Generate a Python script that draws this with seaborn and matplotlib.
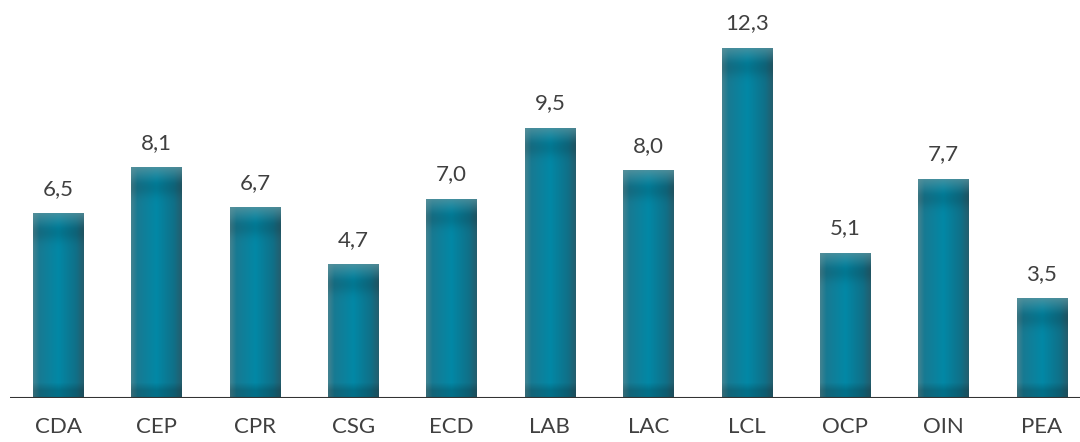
import numpy as np
import pandas as pd
import matplotlib
matplotlib.use('Agg')
import matplotlib.pyplot as plt
import seaborn as sns

categorias = ['CDA', 'CEP', 'CPR', 'CSG', 'ECD', 'LAB', 'LAC', 'LCL', 'OCP', 'OIN', 'PEA']
valores = [6.5, 8.1, 6.7, 4.7, 7.0, 9.5, 8.0, 12.3, 5.1, 7.7, 3.5]

df = pd.DataFrame({'cat': categorias, 'valor': valores})

sns.set_style('white')
plt.rcParams['font.family'] = ['Lato', 'DejaVu Sans']

fig = plt.figure(figsize=(10.8, 4.42), dpi=100)
ax = fig.add_axes([10 / 1080, 44 / 442, 1070 / 1080, 398 / 442])

sns.barplot(data=df, x='cat', y='valor', color='#0a87a4', width=0.51, ax=ax, saturation=1)

ax.set_xlim(-0.49, 10.39)
ax.set_ylim(0, 13.98)

# gradiente de cada barra
px_por_unidade = 398 / 13.98


def gradiente(altura_px):
    h = max(int(altura_px), 2)
    w = 60
    xs = np.linspace(0, 1, w)
    stops = [0, 0.12, 0.5, 0.85, 1]
    cores = np.array([[66, 130, 144], [24, 122, 146], [2, 136, 166], [16, 112, 136], [36, 94, 110]]) / 255
    base = np.stack([np.interp(xs, stops, cores[:, i]) for i in range(3)], axis=-1)
    img = np.repeat(base[None, :, :], h, axis=0)
    ys = np.arange(h)
    # topo mais claro
    claro = np.array([92, 148, 158]) / 255
    t = np.clip(1 - ys / 16, 0, 1)[:, None, None] ** 1.3
    img = img * (1 - 0.75 * t) + claro * 0.75 * t
    # faixa escura abaixo do topo
    escuro = np.exp(-((ys - 20) / 9) ** 2)[:, None, None]
    img = img * (1 - 0.12 * escuro)
    # base escura
    fundo = np.clip((ys - (h - 16)) / 8, 0, 1)[:, None, None]
    img = img * (1 - 0.18 * fundo)
    return np.clip(img, 0, 1)


for p in list(ax.patches):
    x0 = p.get_x()
    larg = p.get_width()
    alt = p.get_height()
    im = ax.imshow(gradiente(alt * px_por_unidade), extent=[x0, x0 + larg, 0, alt],
                   aspect='auto', zorder=3, interpolation='bilinear')
    im.set_clip_path(p)
    ax.text(x0 + larg / 2, alt + 0.5, f'{alt:.1f}'.replace('.', ','),
            ha='center', va='bottom', fontsize=16, color='#404040')

ax.axhline(0, color='#333333', lw=1.5, zorder=5)
for s in ax.spines.values():
    s.set_visible(False)
ax.set_yticks([])
ax.set_xlabel('')
ax.set_ylabel('')
ax.tick_params(axis='x', length=0, labelsize=16, labelcolor='#404040', pad=14)

fig.savefig('out.png', dpi=100)
